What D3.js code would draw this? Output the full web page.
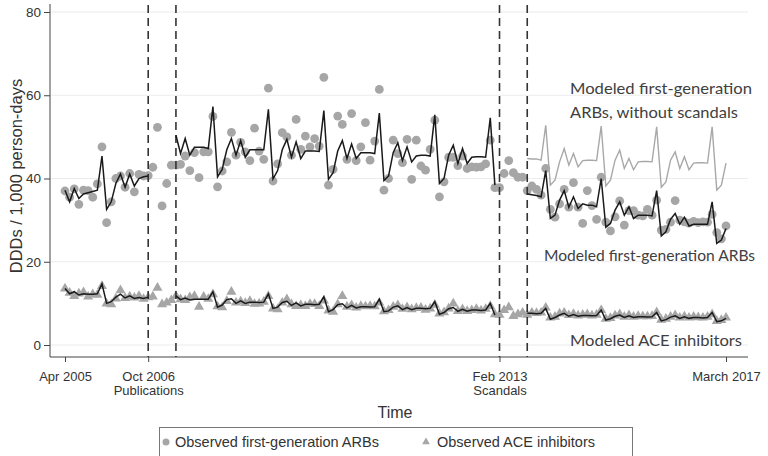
<!DOCTYPE html>
<html><head><meta charset="utf-8">
<script src="https://cdn.jsdelivr.net/npm/d3@7/dist/d3.min.js"></script>
<style>body{margin:0;background:#fff}svg{display:block}</style>
</head><body><svg id="c" width="768" height="456"></svg>
<script>
// Month index 0 = Apr 2005 ... 143 = Mar 2017
const tickMonths = [0, 18, 94, 143];
const tickLabels = [["Apr 2005"], ["Oct 2006", "Publications"], ["Feb 2013", "Scandals"], ["March 2017"]];
const interventionMonths = [18, 24, 94, 100];
const yTicks = [0, 20, 40, 60, 80];

const observedARB = [
  37.0, 35.5, 37.5, 33.8, 37.2, 37.1, 35.5, 38.7, 47.6, 29.4, 34.4, 40.0,
  40.6, 37.9, 41.2, 36.8, 41.0, 40.6, 40.7, 42.7, 52.3, 33.4, 38.8, 43.2,
  43.2, 43.4, 45.4, 41.9, 46.2, 40.2, 46.4, 46.4, 54.9, 38.0, 41.8, 44.0,
  51.1, 45.6, 48.7, 46.4, 44.3, 52.1, 46.6, 44.6, 61.7, 39.4, 43.5, 51.0,
  50.0, 45.6, 54.2, 47.0, 50.2, 47.6, 49.6, 47.8, 64.3, 38.4, 42.2, 55.0,
  53.0, 44.6, 55.6, 44.3, 47.6, 53.4, 44.4, 49.0, 61.4, 37.2, 40.0, 49.2,
  46.0, 43.8, 49.4, 39.8, 49.2, 43.0, 42.0, 47.0, 54.0, 35.6, 39.2, 45.1,
  45.1, 43.1, 45.4, 42.4, 42.8, 42.7, 42.8, 43.5, 49.2, 37.8, 37.8, 41.2,
  44.3, 41.4, 40.3, 40.3, 37.1, 38.2, 37.4, 36.0, 42.4, 32.6, 30.7, 33.9,
  37.4, 33.1, 39.0, 33.1, 29.2, 37.1, 33.5, 30.2, 40.3, 29.5, 27.4, 30.8,
  34.6, 28.8, 32.3, 32.3, 31.2, 31.0, 32.6, 31.2, 34.8, 27.6, 27.8, 29.5,
  34.7, 30.0, 29.6, 29.3, 29.7, 29.4, 29.6, 29.5, 31.4, 27.0, 25.5, 28.6
];

const modeledARB = [
  37.2, 34.4, 37.6, 35.2, 36.3, 36.6, 36.9, 37.2, 45.4, 32.6, 34.4, 38.8,
  41.1, 37.9, 41.1, 38.2, 40.0, 40.4, 40.6, null, null, null, null, null,
  50.4, 46.0, 49.6, 45.6, 47.5, 47.5, 47.5, 47.2, 57.3, 40.4, 42.2, 46.9,
  49.6, 45.6, 49.1, 45.1, 46.9, 46.9, 46.9, 46.9, 56.6, 39.9, 41.9, 46.9,
  49.4, 45.1, 48.8, 44.8, 46.6, 46.6, 46.6, 46.5, 56.3, 39.8, 41.4, 46.6,
  49.1, 44.8, 48.3, 44.8, 46.2, 46.2, 46.2, 46.0, 55.7, 39.5, 40.6, 46.2,
  48.6, 44.3, 47.6, 44.0, 45.4, 45.6, 45.6, 45.4, 55.3, 38.8, 40.0, 45.6,
  48.0, 43.6, 47.2, 43.6, 45.1, 45.2, 45.2, 45.1, 54.6, 38.4, null, null,
  null, null, null, null, 36.3, 36.1, 35.9, 35.6, 41.9, 30.4, 31.2, 34.8,
  37.1, 33.1, 35.6, 32.8, 33.9, 33.6, 33.6, 33.2, 40.0, 28.3, 29.2, 32.4,
  34.4, 31.2, 33.2, 30.4, 31.2, 31.2, 31.2, 31.0, 37.1, 26.2, 27.2, 30.2,
  31.6, 29.0, 30.7, 28.6, 29.0, 29.0, 29.0, 29.0, 34.4, 24.4, 25.2, 28.0
];

const counterfactualARB = [
  null, null, null, null, null, null, null, null, null, null, null, null,
  null, null, null, null, null, null, null, null, null, null, null, null,
  null, null, null, null, null, null, null, null, null, null, null, null,
  null, null, null, null, null, null, null, null, null, null, null, null,
  null, null, null, null, null, null, null, null, null, null, null, null,
  null, null, null, null, null, null, null, null, null, null, null, null,
  null, null, null, null, null, null, null, null, null, null, null, null,
  null, null, null, null, null, null, null, null, null, null, null, null,
  null, null, null, null, 44.8, 44.7, 44.7, 44.4, 52.8, 38.4, 39.6, 44.0,
  47.2, 43.2, 46.0, 42.8, 44.3, 44.4, 44.4, 44.3, 52.6, 38.2, 39.6, 44.4,
  46.8, 42.4, 44.8, 42.1, 44.0, 44.1, 44.1, 44.0, 52.4, 37.9, 39.2, 44.4,
  46.4, 42.4, 45.2, 42.1, 43.7, 43.8, 43.8, 43.7, 52.4, 37.2, 38.4, 43.7
];

const observedACE = [
  13.8, 12.8, 12.0, 12.6, 12.9, 11.9, 12.4, 12.3, 14.4, 10.2, 10.0, 11.4,
  13.4, 11.5, 11.9, 11.6, 12.0, 11.3, 11.7, 11.9, 14.0, 10.0, 10.4, 11.0,
  12.0, 11.2, 11.0, 11.7, 12.0, 9.4, 11.8, 11.3, 12.4, 9.5, 9.3, 10.8,
  13.0, 10.4, 10.7, 10.3, 10.8, 10.1, 10.2, 10.6, 12.0, 9.0, 8.8, 10.4,
  11.2, 10.0, 9.6, 9.8, 9.6, 10.1, 10.1, 9.6, 10.9, 8.5, 8.2, 10.0,
  12.0, 9.4, 9.8, 9.2, 9.6, 9.5, 9.6, 9.5, 10.4, 8.3, 8.6, 9.4,
  9.8, 8.9, 9.3, 8.8, 9.1, 9.2, 8.7, 9.0, 9.9, 7.8, 8.1, 9.0,
  10.2, 8.4, 8.8, 8.4, 8.6, 8.9, 8.5, 8.9, 9.6, 7.6, 7.5, 8.6,
  9.3, 7.2, 7.6, 8.0, 7.5, 8.0, 7.9, 8.0, 9.2, 6.8, 7.0, 7.8,
  8.0, 7.4, 7.7, 7.3, 7.5, 7.6, 7.3, 7.5, 8.6, 6.5, 6.7, 7.3,
  7.6, 7.0, 7.4, 7.0, 7.2, 7.1, 7.1, 7.2, 8.1, 6.3, 6.5, 7.0,
  7.4, 6.8, 7.1, 6.8, 7.0, 6.9, 6.8, 7.0, 7.6, 6.0, 6.2, 6.8
];

const modeledACE = [
  13.6, 12.3, 12.8, 12.0, 12.3, 12.2, 12.2, 12.3, 14.7, 10.0, 10.4, 11.5,
  12.2, 11.3, 11.8, 11.2, 11.4, 11.2, 11.5, null, null, null, null, null,
  11.8, 10.9, 11.3, 10.8, 11.0, 11.0, 11.0, 11.0, 12.8, 9.1, 9.6, 10.9,
  11.1, 10.0, 10.6, 10.0, 10.3, 10.3, 10.2, 10.3, 12.3, 8.8, 9.1, 10.2,
  10.5, 9.5, 10.1, 9.4, 9.8, 9.8, 9.7, 9.8, 11.6, 8.0, 8.5, 9.7,
  9.9, 8.9, 9.5, 8.9, 9.2, 9.2, 9.1, 9.2, 11.0, 8.0, 8.2, 9.1,
  9.4, 8.5, 9.0, 8.5, 8.8, 8.8, 8.7, 8.8, 10.4, 7.4, 7.8, 8.7,
  9.0, 8.1, 8.6, 8.1, 8.4, 8.4, 8.3, 8.4, 10.0, 7.2, null, null,
  null, null, null, null, 7.6, 7.6, 7.5, 7.6, 8.8, 6.2, 6.6, 7.2,
  7.6, 6.9, 7.3, 6.9, 7.1, 7.1, 7.0, 7.1, 8.4, 6.0, 6.3, 6.9,
  7.2, 6.6, 7.0, 6.6, 6.8, 6.8, 6.7, 6.8, 7.8, 5.8, 6.1, 6.7,
  7.0, 6.4, 6.8, 6.4, 6.6, 6.6, 6.5, 6.6, 7.8, 5.6, 5.8, 6.4
];

const annotations = [
  {lines: ["Modeled first-generation", "ARBs, without scandals"], widths: [182, 168], x: 570, y: 94},
  {lines: ["Modeled first-generation ARBs"], widths: [211], x: 544, y: 261},
  {lines: ["Modeled ACE inhibitors"], widths: [172], x: 570, y: 346}
];

const svg = d3.select("#c");
const x = d3.scaleLinear().domain([0, 143]).range([65, 726]);
const y = d3.scaleLinear().domain([0, 80]).range([345, 12]);
const plotLeft = 50, plotRight = 748, plotTop = 4, plotBottom = 357;
const axisFont = "'Liberation Sans', Arial, sans-serif";
const noteFont = "Lato, 'Open Sans', sans-serif";

// gridlines
svg.append("g").selectAll("line").data(yTicks).join("line")
  .attr("x1", plotLeft + 1).attr("x2", plotRight)
  .attr("y1", d => y(d)).attr("y2", d => y(d))
  .attr("stroke", "#ececec").attr("stroke-width", 1.2);

// y axis
const yAxis = svg.append("g").attr("transform", `translate(${plotLeft},0)`)
  .call(d3.axisLeft(y).tickValues(yTicks).tickSize(6).tickPadding(3));
yAxis.select(".domain").attr("d", `M0,${plotTop}V${plotBottom}`).attr("stroke", "#444");
yAxis.selectAll(".tick line").attr("stroke", "#444");
yAxis.selectAll(".tick text").attr("font-family", axisFont).attr("font-size", 13.5).attr("fill", "#333");

// x axis
const xAxis = svg.append("g").attr("transform", `translate(0,${plotBottom})`)
  .call(d3.axisBottom(x).tickValues(tickMonths).tickSize(5).tickFormat(""));
xAxis.select(".domain").attr("d", `M${plotLeft},0H${plotRight}`).attr("stroke", "#444");
xAxis.selectAll(".tick line").attr("stroke", "#444");
xAxis.selectAll(".tick").each(function(d, i) {
  const t = d3.select(this).append("text").attr("font-family", axisFont)
    .attr("font-size", 13).attr("fill", "#333").attr("text-anchor", "middle");
  tickLabels[i].forEach((s, k) => t.append("tspan").attr("x", 0).attr("y", 24 + k * 14).text(s));
});

svg.append("text").attr("x", 395).attr("y", 418).attr("text-anchor", "middle")
  .attr("font-family", axisFont).attr("font-size", 16).attr("fill", "#333").text("Time");
svg.append("text").attr("transform", "translate(22,176) rotate(-90)").attr("text-anchor", "middle")
  .attr("font-family", axisFont).attr("font-size", 16.5).attr("fill", "#333").text("DDDs / 1,000 person-days");

// observed points
const idx = d3.range(observedARB.length);
svg.append("g").selectAll("circle").data(idx).join("circle")
  .attr("cx", i => x(i)).attr("cy", i => y(observedARB[i])).attr("r", 4.4)
  .attr("fill", "#a6a6a6");
svg.append("g").selectAll("path").data(idx).join("path")
  .attr("transform", i => `translate(${x(i)},${y(observedACE[i]) + 1})`)
  .attr("d", d3.symbol(d3.symbolTriangle, 44)).attr("fill", "#a6a6a6");

// intervention lines
svg.append("g").selectAll("line").data(interventionMonths).join("line")
  .attr("x1", d => x(d)).attr("x2", d => x(d)).attr("y1", plotTop + 1).attr("y2", plotBottom)
  .attr("stroke", "#333").attr("stroke-width", 1.6).attr("stroke-dasharray", "8,5");

// modeled lines
const line = arr => d3.line().defined(i => arr[i] !== null).x(i => x(i)).y(i => y(arr[i]))(idx);
svg.append("path").attr("d", line(counterfactualARB)).attr("fill", "none").attr("stroke", "#a8a8a8").attr("stroke-width", 1.4);
svg.append("path").attr("d", line(modeledARB)).attr("fill", "none").attr("stroke", "#1a1a1a").attr("stroke-width", 1.5);
svg.append("path").attr("d", line(modeledACE)).attr("fill", "none").attr("stroke", "#1a1a1a").attr("stroke-width", 1.5);

// annotations
annotations.forEach(a => {
  const t = svg.append("text").attr("font-family", noteFont).attr("font-size", 16).attr("fill", "#404040");
  a.lines.forEach((s, k) => t.append("tspan").attr("x", a.x).attr("y", a.y + k * 24)
    .attr("textLength", a.widths[k]).attr("lengthAdjust", "spacingAndGlyphs").text(s));
});

// legend
const lg = svg.append("g");
lg.append("rect").attr("x", 159.5).attr("y", 427.5).attr("width", 473).attr("height", 40)
  .attr("fill", "#fff").attr("stroke", "#777");
lg.append("circle").attr("cx", 166).attr("cy", 442).attr("r", 3.5).attr("fill", "#a6a6a6");
lg.append("text").attr("x", 175).attr("y", 447).attr("font-family", axisFont).attr("font-size", 14.5)
  .attr("fill", "#333").text("Observed first-generation ARBs");
lg.append("path").attr("transform", "translate(426,442)").attr("d", d3.symbol(d3.symbolTriangle, 26)).attr("fill", "#a6a6a6");
lg.append("text").attr("x", 437).attr("y", 447).attr("font-family", axisFont).attr("font-size", 14.5)
  .attr("fill", "#333").text("Observed ACE inhibitors");
</script></body></html>
